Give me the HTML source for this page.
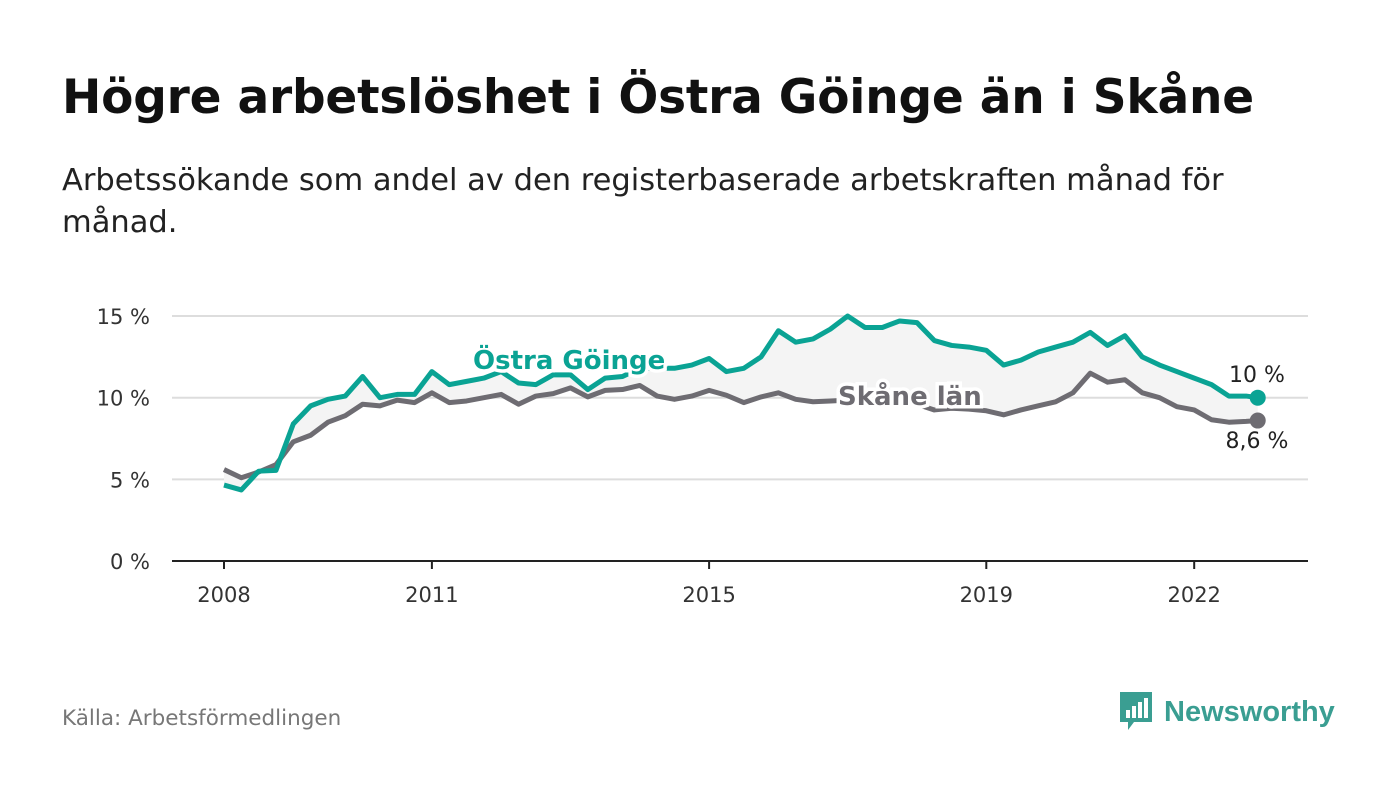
<!DOCTYPE html>
<html><head><meta charset="utf-8">
<style>
body{margin:0;width:1400px;height:794px;background:#fff;font-family:"DejaVu Sans",sans-serif;overflow:hidden;position:relative}
#title{position:absolute;left:62px;top:70px;font-size:47px;font-weight:bold;color:#111;margin:0;letter-spacing:-0.2px;white-space:nowrap}
#sub{position:absolute;left:62px;top:160px;font-size:30.5px;color:#222;line-height:42px;width:1250px}
#src{position:absolute;left:62px;top:706px;font-size:21.5px;color:#777}
#logo{position:absolute;left:1118px;top:690px;display:flex;align-items:center}
#chart{position:absolute;left:0;top:0}
</style></head><body>
<h1 id="title">Högre arbetslöshet i Östra Göinge än i Skåne</h1>
<div id="sub">Arbetssökande som andel av den registerbaserade arbetskraften månad för<br>månad.</div>
<svg id="chart" width="1400" height="794"></svg>
<div id="src">Källa: Arbetsförmedlingen</div>
<div id="logo">
<svg width="38" height="44"><path d="M2 2h32v30H16l-6 8v-8H2z" fill="#3a9e92"/><rect x="8" y="20" width="4" height="8" fill="#fff"/><rect x="14" y="16" width="4" height="12" fill="#fff"/><rect x="20" y="12" width="4" height="16" fill="#fff"/><rect x="26" y="8" width="4" height="20" fill="#fff"/></svg>
<span style="font-family:'Liberation Sans',sans-serif;font-size:29px;font-weight:bold;color:#3a9e92;margin-left:8px">Newsworthy</span>
</div>
<script>
const months=[0,3,6,9,12,15,18,21,24,27,30,33,36,39,42,45,48,51,54,57,60,63,66,69,72,75,78,81,84,87,90,93,96,99,102,105,108,111,114,117,120,123,126,129,132,135,138,141,144,147,150,153,156,159,162,165,168,171,174,177,179];
const goinge=[4.65,4.35,5.5,5.55,8.4,9.5,9.9,10.1,11.3,10.0,10.2,10.2,11.6,10.8,11.0,11.2,11.6,10.9,10.8,11.4,11.4,10.5,11.2,11.3,11.8,11.8,11.8,12.0,12.4,11.6,11.8,12.5,14.1,13.4,13.6,14.2,15.0,14.3,14.3,14.7,14.6,13.5,13.2,13.1,12.9,12.0,12.3,12.8,13.1,13.4,14.0,13.2,13.8,12.5,12.0,11.6,11.2,10.8,10.1,10.1,10.0];
const skane=[5.6,5.1,5.45,5.9,7.3,7.7,8.5,8.9,9.6,9.5,9.85,9.7,10.3,9.7,9.8,10.0,10.2,9.6,10.1,10.25,10.6,10.05,10.45,10.5,10.75,10.1,9.9,10.1,10.45,10.15,9.7,10.05,10.3,9.9,9.75,9.8,9.85,9.9,9.9,9.9,9.6,9.25,9.35,9.3,9.2,8.95,9.25,9.5,9.75,10.3,11.5,10.95,11.1,10.3,10.0,9.45,9.25,8.65,8.5,8.55,8.6];
const yTicks=[0,5,10,15];
const yLabels=["0 %","5 %","10 %","15 %"];
const xTickYears=[2008,2011,2015,2019,2022];
const NS="http://www.w3.org/2000/svg";
const svg=document.getElementById('chart');
const FF='DejaVu Sans, sans-serif';
const xS=m=>224+m*(69.3/12);
const xY=yr=>224+(yr-2008)*69.3;
const yS=v=>561-v*16.33;
function el(t,a,p){const e=document.createElementNS(NS,t);for(const k in a)e.setAttribute(k,a[k]);(p||svg).appendChild(e);return e;}
yTicks.forEach((t,i)=>{
 const g=el('line',{x1:172,x2:1308,y1:yS(t),y2:yS(t),stroke:t===0?'#222':'#ddd','stroke-width':2});
 
 
 const l=el('text',{x:150,y:yS(t)+8,'text-anchor':'end','font-size':21,fill:'#333','font-family':FF});
 l.textContent=yLabels[i];
 
 
});
xTickYears.forEach(yr=>{
 const x=xY(yr);
 const tk=el('line',{x1:x,x2:x,y1:561,y2:569,stroke:'#222','stroke-width':2});
 
 
 const l=el('text',{x:x,y:602,'text-anchor':'middle','font-size':21,fill:'#333','font-family':FF});
 l.textContent=yr;
 
 
});
let area='M'+months.map((m,i)=>xS(m)+','+yS(goinge[i])).join('L');
for(let i=months.length-1;i>=0;i--)area+='L'+xS(months[i])+','+yS(skane[i]);
const ar=el('path',{d:area+'Z',fill:'#f4f4f4'});


function line(vals,col,name){
 const p=el('path',{d:'M'+months.map((m,i)=>xS(m)+','+yS(vals[i])).join('L'),fill:'none',stroke:col,'stroke-width':5,'stroke-linejoin':'round'});
 
 
 const n=months.length-1;
 const c=el('circle',{cx:xS(months[n]),cy:yS(vals[n]),r:8,fill:col});
 
 
}
line(skane,'#6e6c72','skane-line');
line(goinge,'#0aa394','goinge-line');
function label(txt,x,y,col,name,bold,anchor){
 const t=el('text',{x:x,y:y,'font-size':bold?26:22,'font-weight':bold?'bold':'normal',fill:col,stroke:'#fff','stroke-width':bold?7:0,'paint-order':'stroke','text-anchor':anchor||'start','font-family':FF});
 t.textContent=txt;
 
 
}
label('Östra Göinge',473,369,'#0aa394','goinge-series-label',true);
label('Skåne län',838,405,'#6e6c72','skane-series-label',true);
label('10 %',1257,382,'#222','goinge-end-value',false,'middle');
label('8,6 %',1257,448,'#222','skane-end-value',false,'middle');
</script>
</body></html>
